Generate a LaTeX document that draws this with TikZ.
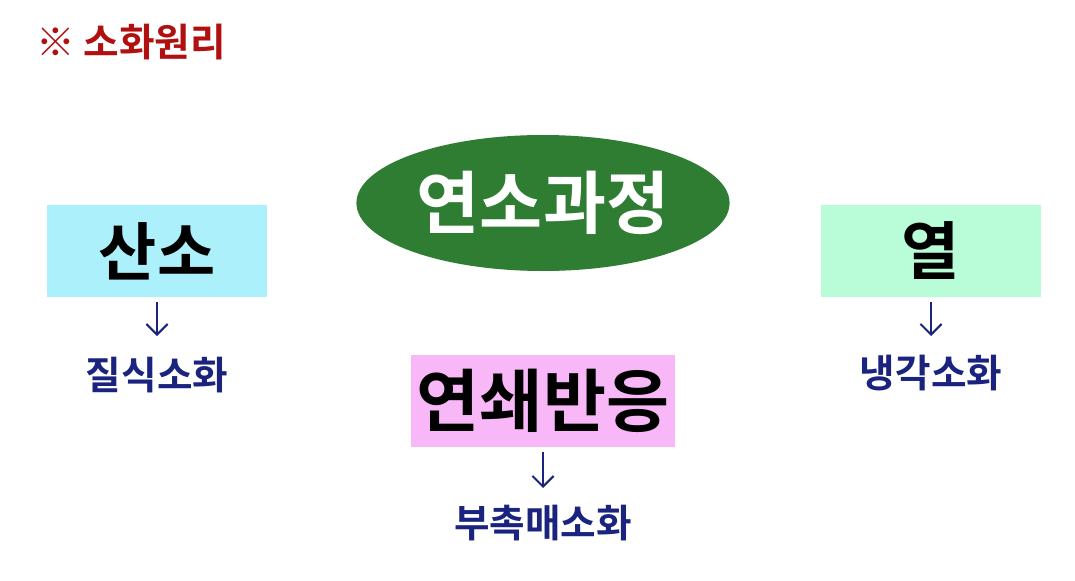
\documentclass[tikz,border=0pt]{standalone}
\usepackage{fontspec}
\setmainfont{Noto Sans CJK KR}[BoldFont={* Bold}]
\usetikzlibrary{positioning,shapes.geometric,arrows.meta}
\definecolor{titlered}{HTML}{B01010}
\definecolor{navy}{HTML}{1A237E}
\definecolor{ovalgreen}{HTML}{2E7D32}
\definecolor{boxcyan}{HTML}{ACF0FC}
\definecolor{boxmint}{HTML}{B8FCD8}
\definecolor{boxpink}{HTML}{F8B8F8}
\tikzset{
  factor/.style={draw=none, minimum width=220*0.02cm, minimum height=92*0.02cm, font=\fontsize{36}{40}\selectfont\bfseries},
  result/.style={text=navy, font=\fontsize{22}{26}\selectfont\bfseries},
  down/.style={->, navy, line width=1.2pt, -{Straight Barb[length=6pt]}}
}
\begin{document}
\begin{tikzpicture}[x=0.02cm,y=-0.02cm]
\useasboundingbox (0,0) rectangle (1075,581);

\node[anchor=west, text=titlered, font=\fontsize{22}{26}\selectfont\bfseries] (title) at (30,42) {※ 소화원리};

\node[ellipse, fill=ovalgreen, text=white, minimum width=322*0.02cm, minimum height=136*0.02cm,
      font=\fontsize{39}{44}\selectfont\bfseries] (process) at (543,203) {연소과정};

\node[factor, fill=boxcyan] (oxygen) at (157,251) {산소};
\node[factor, fill=boxmint] (heat) at (931,251) {열};
\node[factor, fill=boxpink, minimum width=254*0.02cm, font=\fontsize{39}{44}\selectfont\bfseries] (chain) at (543,401) {연쇄반응};

\node[result] (choke) at (157,375) {질식소화};
\node[result] (cool) at (931,373) {냉각소화};
\node[result] (inhibit) at (543,523) {부촉매소화};

\coordinate (o1) at (157,302); \coordinate (o2) at (157,336);
\coordinate (h1) at (931,302); \coordinate (h2) at (931,336);
\coordinate (c1) at (543,452); \coordinate (c2) at (543,488);
\draw[down] (o1) -- (o2);
\draw[down] (h1) -- (h2);
\draw[down] (c1) -- (c2);

\end{tikzpicture}
\end{document}
